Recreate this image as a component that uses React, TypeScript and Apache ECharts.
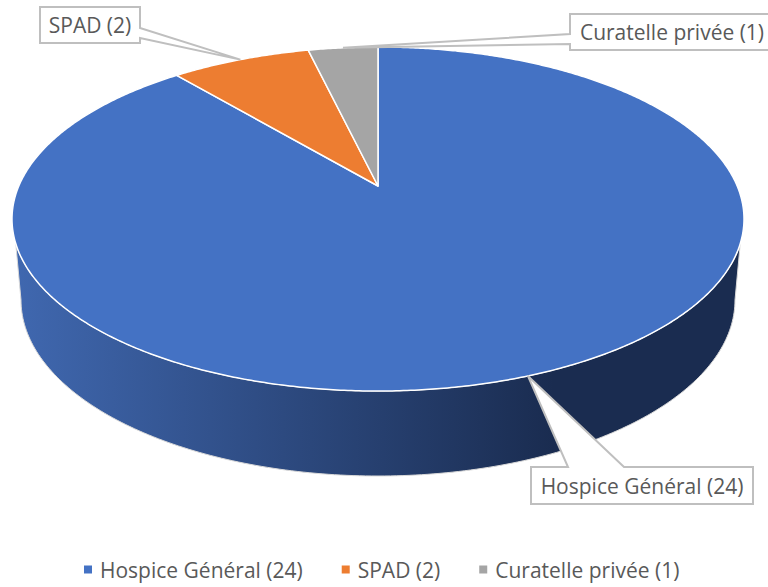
import React, { useEffect, useRef } from "react";
import * as echarts from "echarts";

const categories = ["Hospice Général", "SPAD", "Curatelle privée"];
const values = [24, 2, 1];
const colors = ["#4472C4", "#ED7D31", "#A5A5A5"];
const FONT = "'Open Sans', sans-serif";
const FONT_SIZE = 21;

const labelOf = (i: number) => `${categories[i]} (${values[i]})`;

// Callout boxes: [left, top, right, bottom]
const boxes = [
  [531, 467, 753, 504],
  [40, 7, 140, 43],
  [570, 14, 780, 50],
];

const total = values.reduce((a, b) => a + b, 0);

// Perspective projection of the pie's circle on the page
const project = (theta: number) => {
  const u = Math.sin(theta);
  const v = -Math.cos(theta);
  const w = 1 - 0.1919 * v;
  return [378 + (359.2 * u) / w, (130 * v + 186) / w];
};
const bounds = (i: number) => {
  const before = values.slice(0, i).reduce((a, b) => a + b, 0);
  return [(before / total) * 2 * Math.PI, ((before + values[i]) / total) * 2 * Math.PI];
};

const wallPoints = () => {
  const pts: number[][] = [];
  for (let d = 0; d <= 720; d++) {
    const p = project((d / 720) * 2 * Math.PI);
    if (p[1] >= 243) pts.push(p);
  }
  for (let d = 180; d >= 0; d--) {
    const a = (d / 180) * Math.PI;
    pts.push([378 + 357 * Math.cos(a), 300 + 176 * Math.sin(a)]);
  }
  return pts;
};

const render = (i: number) => () => {
  const [a0, a1] = bounds(i);
  const sector: number[][] = [[378, 186]];
  const steps = Math.max(8, Math.round((a1 - a0) * 120));
  for (let s = 0; s <= steps; s++) sector.push(project(a0 + ((a1 - a0) * s) / steps));
  const tip = project((a0 + a1) / 2);
  const [l, t, r, b] = boxes[i];
  // callout outline with its tail pointing at the middle of the slice
  let callout: number[][];
  if (i === 0) {
    callout = [[l, t], [l + 37, t], tip, [l + 93, t], [r, t], [r, b], [l, b]];
  } else if (i === 1) {
    callout = [[l, t], [r, t], [r, t + 21], tip, [r, t + 31], [r, b], [l, b]];
  } else {
    callout = [[l, t], [r, t], [r, b], [l, b], [l, t + 30], tip, [l, t + 20]];
  }
  const children: any[] = [];
  if (i === 0) {
    children.push({
      type: "polygon",
      shape: { points: wallPoints() },
      style: {
        fill: new echarts.graphic.LinearGradient(12, 0, 744, 0, [
          { offset: 0, color: "#4068B0" },
          { offset: 0.74, color: "#1A2C50" },
          { offset: 1, color: "#1A2C50" },
        ], true),
        stroke: "#D9D9D9",
        lineWidth: 1,
      },
    });
  }
  children.push({
    type: "polygon",
    shape: { points: sector },
    style: { fill: colors[i], stroke: "#FFFFFF", lineWidth: 1.5, lineJoin: "round" },
  });
  children.push({
    type: "polygon",
    z2: 10,
    shape: { points: callout },
    style: { fill: "#FFFFFF", stroke: "#BFBFBF", lineWidth: 2 },
  });
  children.push({
    type: "text",
    z2: 11,
    style: {
      x: i === 2 ? 672 : (l + r) / 2,
      y: (t + b) / 2,
      text: labelOf(i),
      fill: "#595959",
      font: `${FONT_SIZE}px ${FONT}`,
      align: "center",
      verticalAlign: "middle",
    },
  });
  return { type: "group", children };
};

export default function App() {
  const ref = useRef<HTMLDivElement>(null);
  useEffect(() => {
    const chart = echarts.init(ref.current!, undefined, { renderer: "svg" });
    chart.setOption({
      animation: false,
      backgroundColor: "#FFFFFF",
      legend: {
        left: 79,
        top: 554,
        icon: "rect",
        itemWidth: 8,
        itemHeight: 8,
        itemGap: 39,
        textStyle: { color: "#595959", fontFamily: "'Open Sans', sans-serif", fontSize: FONT_SIZE, padding: [0, 0, 0, 3] },
        data: categories.map((_, i) => labelOf(i)),
      },
      series: categories.map((_, i) => ({
        type: "custom",
        name: labelOf(i),
        coordinateSystem: "none",
        itemStyle: { color: colors[i] },
        data: [values[i]],
        renderItem: render(i),
      })),
    });
    return () => chart.dispose();
  }, []);
  return <div ref={ref} style={{ position: "fixed", left: 0, top: 0, width: 768, height: 587 }} />;
}
